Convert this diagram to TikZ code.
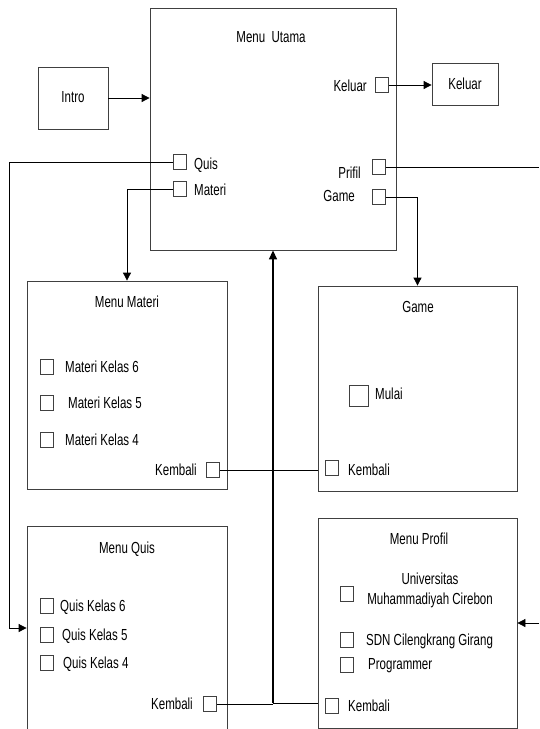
\documentclass[tikz,border=0pt]{standalone}
\usepackage{fontspec}
\setmainfont{Liberation Sans}[FakeStretch=0.72]
\usetikzlibrary{arrows.meta}
\begin{document}
\begin{tikzpicture}[x=1pt,y=-1pt,
  box/.style={draw=black!75, line width=0.8pt, rectangle, inner sep=0pt},
  cb/.style={draw=black!75, line width=0.7pt, rectangle, minimum width=13pt, minimum height=15pt, inner sep=0pt},
  lbl/.style={inner sep=0pt, text height=11.5pt, text depth=0pt, font=\fontsize{16}{19}\selectfont},
  conn/.style={line width=0.8pt},
  arr/.style={conn, -{Triangle[length=8pt,width=8pt]}}]
\useasboundingbox (0,0) rectangle (539,729);
\clip (0,0) rectangle (539,729);

% boxes
\node[box, minimum width=246pt, minimum height=242pt] (utama) at (273,129) {};
\node[box, minimum width=70pt, minimum height=62pt] (intro) at (73,98) {};
\node[box, minimum width=66pt, minimum height=42pt] (keluarbox) at (465,84) {};
\node[box, minimum width=200pt, minimum height=208pt] (materi) at (127,385) {};
\node[box, minimum width=199pt, minimum height=205pt] (game) at (417.5,388.5) {};
\node[box, minimum width=200pt, minimum height=219pt] (quis) at (127,635.5) {};
\node[box, minimum width=199pt, minimum height=210pt] (profil) at (417.5,623) {};

% texts of boxes
\node[lbl] (tIntro) at (73,97) {Intro};
\node[lbl] (tKeluar) at (465,84) {Keluar};
\node[lbl] (tUtama) at (271,37) {Menu\ \ Utama};
\node[lbl] (tMateri) at (127,302) {Menu Materi};
\node[lbl] (tGame) at (418,307) {Game};
\node[lbl] (tQuis) at (127,548) {Menu Quis};
\node[lbl] (tProfil) at (419,539) {Menu Profil};

% Menu Utama checkboxes
\node[cb] (cbKeluar) at (382,85) {};
\node[lbl, anchor=east] (lKeluar) at (367,86) {Keluar};
\node[cb] (cbPrifil) at (379,167) {};
\node[lbl, anchor=east] (lPrifil) at (361,173) {Prifil};
\node[cb] (cbGame) at (379,197) {};
\node[lbl, anchor=east] (lGame) at (355,196) {Game};
\node[cb] (cbQuis) at (179.5,162) {};
\node[lbl, anchor=west] (lQuis) at (194,164) {Quis};
\node[cb] (cbMateri) at (179.5,189) {};
\node[lbl, anchor=west] (lMateri) at (194,190) {Materi};

% Menu Materi
\node[cb] (cbM6) at (46.5,367) {};
\node[lbl, anchor=west] (lM6) at (65,367) {Materi Kelas 6};
\node[cb] (cbM5) at (46.5,403) {};
\node[lbl, anchor=west] (lM5) at (68,403) {Materi Kelas 5};
\node[cb] (cbM4) at (46.5,440) {};
\node[lbl, anchor=west] (lM4) at (65,440) {Materi Kelas 4};
\node[cb] (cbMK) at (213,470) {};
\node[lbl, anchor=east] (lMK) at (197,470) {Kembali};

% Game
\node[cb, minimum width=19pt, minimum height=21pt] (cbMulai) at (358.5,396) {};
\node[lbl, anchor=west] (lMulai) at (375,394) {Mulai};
\node[cb] (cbGK) at (332,468) {};
\node[lbl, anchor=west] (lGK) at (348,470) {Kembali};

% Menu Quis
\node[cb] (cbQ6) at (46.5,606) {};
\node[lbl, anchor=west] (lQ6) at (60,606) {Quis Kelas 6};
\node[cb] (cbQ5) at (46.5,635) {};
\node[lbl, anchor=west] (lQ5) at (62,635) {Quis Kelas 5};
\node[cb] (cbQ4) at (46.5,663) {};
\node[lbl, anchor=west] (lQ4) at (63,663) {Quis Kelas 4};
\node[cb] (cbQK) at (210,704) {};
\node[lbl, anchor=east] (lQK) at (193,704) {Kembali};

% Menu Profil
\node[cb] (cbP1) at (347,594) {};
\node[inner sep=0pt, align=center, font=\fontsize{16}{20}\selectfont] (lP1) at (430,590) {Universitas\\Muhammadiyah Cirebon};
\node[cb] (cbP2) at (347,640) {};
\node[lbl, anchor=west] (lP2) at (366,640) {SDN Cilengkrang Girang};
\node[cb] (cbP3) at (347,665) {};
\node[lbl, anchor=west] (lP3) at (368,664) {Programmer};
\node[cb] (cbPK) at (332,706) {};
\node[lbl, anchor=west] (lPK) at (348,706) {Kembali};

% helper coordinates
\coordinate (prifilEnd) at (539,167);
\coordinate (profilIn) at (539,623);
\coordinate (quisBend) at (9,628);
\coordinate (vb) at (273,703);

% connectors
\draw[arr] (intro.east) -- (intro.east -| utama.west);
\draw[arr] (cbKeluar.east) -- (cbKeluar.east -| keluarbox.west);
\draw[conn] (cbPrifil.east) -- (prifilEnd);
\draw[arr] (cbGame.east) -| (game.north);
\draw[arr] (cbQuis.west) -| (quisBend) -- (quisBend -| quis.west);
\draw[arr] (cbMateri.west) -| (materi.north);
\draw[conn] (cbMK.east) -- (cbMK.east -| game.west);
\draw[line width=1.4pt, -{Triangle[length=9pt,width=8pt]}] (vb) -- (vb |- utama.south);
\draw[conn] (cbQK.east) -- (cbQK.east -| vb);
\draw[conn] (vb) -- (vb -| profil.west);
\draw[arr] (profilIn) -- (profilIn -| profil.east);
\end{tikzpicture}
\end{document}
